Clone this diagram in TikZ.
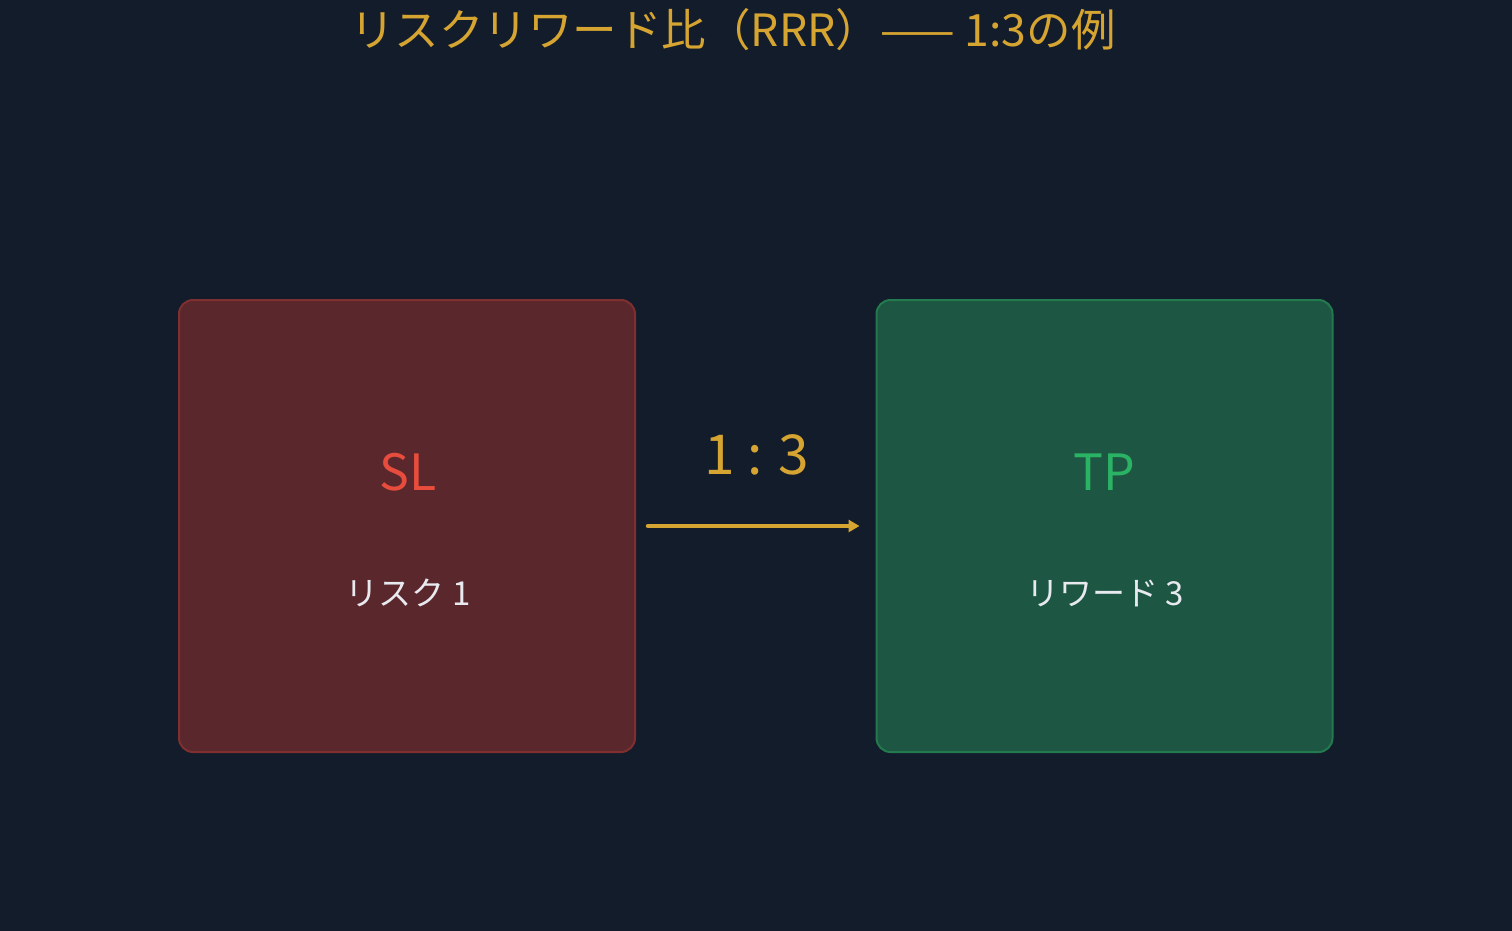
\documentclass[tikz,border=0pt]{standalone}
\usepackage{fontspec}
\setmainfont{Noto Sans CJK JP}
\usetikzlibrary{arrows.meta}
\definecolor{bg}{HTML}{131C2B}
\definecolor{gold}{HTML}{D6A531}
\definecolor{redfill}{HTML}{5A282C}
\definecolor{redline}{HTML}{7F2F2F}
\definecolor{redtext}{HTML}{E74C3C}
\definecolor{greenfill}{HTML}{1D5642}
\definecolor{greenline}{HTML}{237A4E}
\definecolor{greentext}{HTML}{2BB365}
\definecolor{lighttext}{HTML}{E8EAF0}
\tikzset{
  panel/.style={draw, line width=2pt, rounded corners=14pt, minimum width=456pt, minimum height=452pt, inner sep=0pt},
  bigtag/.style={font=\fontsize{50}{60}\selectfont, inner sep=0pt},
  subtag/.style={font=\fontsize{33}{40}\selectfont, text=lighttext, inner sep=0pt},
  ratioarrow/.style={draw=gold, line width=4.5pt, line cap=round, -{Triangle[length=11pt,width=12pt]}}
}
\begin{document}
\begin{tikzpicture}[x=1pt,y=-1pt]
\fill[bg] (0,0) rectangle (1512,931);
\useasboundingbox (0,0) rectangle (1512,931);
\node[font=\fontsize{44.5}{52}\selectfont, text=gold, inner sep=0pt] (title) at (733,30) {リスクリワード比（RRR）—— 1:3の例};
\node[panel, draw=redline, fill=redfill] (sl) at (407,526) {};
\node[panel, draw=greenline, fill=greenfill] (tp) at (1104.5,526) {};
\node[bigtag, text=redtext] (sllabel) at (408,472) {SL};
\node[bigtag, text=greentext] (tplabel) at (1104,472) {TP};
\node[subtag] (risk) at (408,593) {リスク 1};
\node[subtag] (reward) at (1105,593) {リワード 3};
\node[font=\fontsize{55}{66}\selectfont, text=gold, inner sep=0pt] (ratio) at (757,455) {1 : 3};
\draw[ratioarrow, shorten <=12pt, shorten >=16pt] (sl.east) -- (tp.west);
\end{tikzpicture}
\end{document}
